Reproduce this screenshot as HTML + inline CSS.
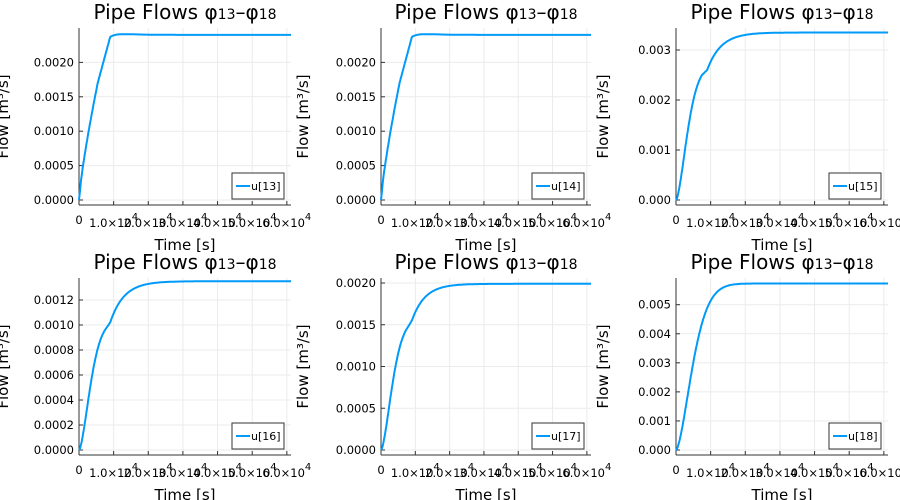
<!DOCTYPE html>
<html><head><meta charset="utf-8"><style>
html,body{margin:0;padding:0;background:#fff;width:900px;height:500px;overflow:hidden}
svg text{font-family:"DejaVu Sans","Liberation Sans",sans-serif;fill:#000}
</style></head><body>
<svg id="s" width="900" height="500" xmlns="http://www.w3.org/2000/svg"></svg>
<script>
const S=document.getElementById('s');let h='';
const T=61200;
function p1(t){if(t<9000){const s=t/9000;let v=s<0.6?0.0017*Math.pow(s/0.6,0.8):0.0017+0.00067*(s-0.6)/0.4;if(t<500)v*=0.6+0.4*t/500;return v;}let d=t-9000;return 0.0024-0.00003*Math.exp(-d/1500)+0.00003*(d/3000)*Math.exp(-d/3000)*1.2}
const panels=[
 {ox:0,L:79,R:291,top:28,bot:205,z:200,step:0.0005,pps:34.4,ticks:[0,0.0005,0.001,0.0015,0.002],fmt:4,lab:'u[13]',f:p1},
 {ox:300,L:381,R:591,top:28,bot:205,z:200,step:0.0005,pps:34.4,ticks:[0,0.0005,0.001,0.0015,0.002],fmt:4,lab:'u[14]',f:p1},
 {ox:600,L:676,R:888,top:28,bot:205,z:200,step:0.001,pps:50,ticks:[0,0.001,0.002,0.003],fmt:3,lab:'u[15]',f:t=>{if(t<7500)return 0.0025*(1-Math.exp(-Math.pow(t/4200,1.6)))/(1-Math.exp(-Math.pow(7500/4200,1.6)));if(t<9000)return 0.0025+0.0001*(t-7500)/1500;return 0.00335-0.00075*Math.exp(-(t-9000)/4000)}},
 {ox:0,L:79,R:291,top:278,bot:455,z:450,step:0.0002,pps:25,ticks:[0,0.0002,0.0004,0.0006,0.0008,0.001,0.0012],fmt:4,lab:'u[16]',f:t=>{if(t<7500)return 0.00096*(1-Math.exp(-Math.pow(t/4200,1.6)))/(1-Math.exp(-Math.pow(7500/4200,1.6)));if(t<9000)return 0.00096+0.00006*(t-7500)/1500;return 0.00135-0.00033*Math.exp(-(t-9000)/4000)}},
 {ox:300,L:381,R:591,top:278,bot:455,z:450,step:0.0005,pps:41.75,ticks:[0,0.0005,0.001,0.0015,0.002],fmt:4,lab:'u[17]',f:t=>{if(t<7500)return 0.00145*(1-Math.exp(-Math.pow(t/4200,1.6)))/(1-Math.exp(-Math.pow(7500/4200,1.6)));if(t<9000)return 0.00145+0.0001*(t-7500)/1500;return 0.00199-0.00044*Math.exp(-(t-9000)/3800)}},
 {ox:600,L:676,R:888,top:278,bot:455,z:450,step:0.001,pps:29.06,ticks:[0,0.001,0.002,0.003,0.004,0.005],fmt:3,lab:'u[18]',f:t=>0.00573*(1-Math.exp(-Math.pow(t/6000,1.6)))}
];
panels.forEach(p=>{
 const sx=t=>p.L+(t/T)*(p.R-p.L);
 const sy=v=>p.z-v/p.step*p.pps;
 for(let k=1;k<=6;k++){const x=sx(k*1e4);h+=`<line x1="${x}" y1="${p.top}" x2="${x}" y2="${p.bot}" stroke="#ebebeb" stroke-width="1"/>`;}
 p.ticks.forEach(v=>{const y=sy(v);h+=`<line x1="${p.L}" y1="${y}" x2="${p.R}" y2="${y}" stroke="#ebebeb" stroke-width="1"/>`;
  h+=`<line x1="${p.L}" y1="${y}" x2="${p.L+4}" y2="${y}" stroke="#333"/>`;
  h+=`<text x="${p.L-5}" y="${y+4}" font-size="11.5" text-anchor="end">${v.toFixed(p.fmt)}</text>`;});
 h+=`<line x1="${p.L}" y1="${p.top}" x2="${p.L}" y2="${p.bot}" stroke="#333" stroke-width="1"/>`;
 h+=`<line x1="${p.L}" y1="${p.bot}" x2="${p.R}" y2="${p.bot}" stroke="#333" stroke-width="1"/>`;
 h+=`<text x="${p.L}" y="${p.bot+19}" font-size="11.5" text-anchor="middle">0</text>`;
 for(let k=1;k<=6;k++){const x=sx(k*1e4);h+=`<line x1="${x}" y1="${p.bot}" x2="${x}" y2="${p.bot-4}" stroke="#333"/>`;
  h+=`<text x="${x}" y="${p.bot+22}" font-size="11.5" text-anchor="middle">${k}.0×10<tspan dy="-7" font-size="10">4</tspan></text>`;}
 let d='';for(let i=0;i<=400;i++){const t=T*i/400;d+=(i?'L':'M')+sx(t).toFixed(1)+','+sy(p.f(t)).toFixed(1);}
 h+=`<path d="${d}" fill="none" stroke="#009af9" stroke-width="2"/>`;
 const cx=(p.L+p.R)/2;
 h+=`<text x="${cx}" y="${p.top-9}" font-size="20" text-anchor="middle">Pipe Flows φ<tspan font-size="14">13</tspan>–φ<tspan font-size="14">18</tspan></text>`;
 h+=`<text x="${cx}" y="${p.bot+45}" font-size="15" text-anchor="middle">Time [s]</text>`;
 const ly=(p.top+p.bot)/2, lx=p.ox+8;
 h+=`<text x="${lx}" y="${ly}" font-size="15" text-anchor="middle" transform="rotate(-90 ${lx} ${ly})">Flow [m³/s]</text>`;
 const lr=p.R-7, lb=p.bot-6;
 h+=`<rect x="${lr-52}" y="${lb-26}" width="52" height="26" fill="#fff" stroke="#333" stroke-width="1"/>`;
 h+=`<line x1="${lr-48}" y1="${lb-13}" x2="${lr-34}" y2="${lb-13}" stroke="#009af9" stroke-width="2"/>`;
 h+=`<text x="${lr-33}" y="${lb-9}" font-size="11">${p.lab}</text>`;
});
S.innerHTML=h;
</script>
</body></html>
